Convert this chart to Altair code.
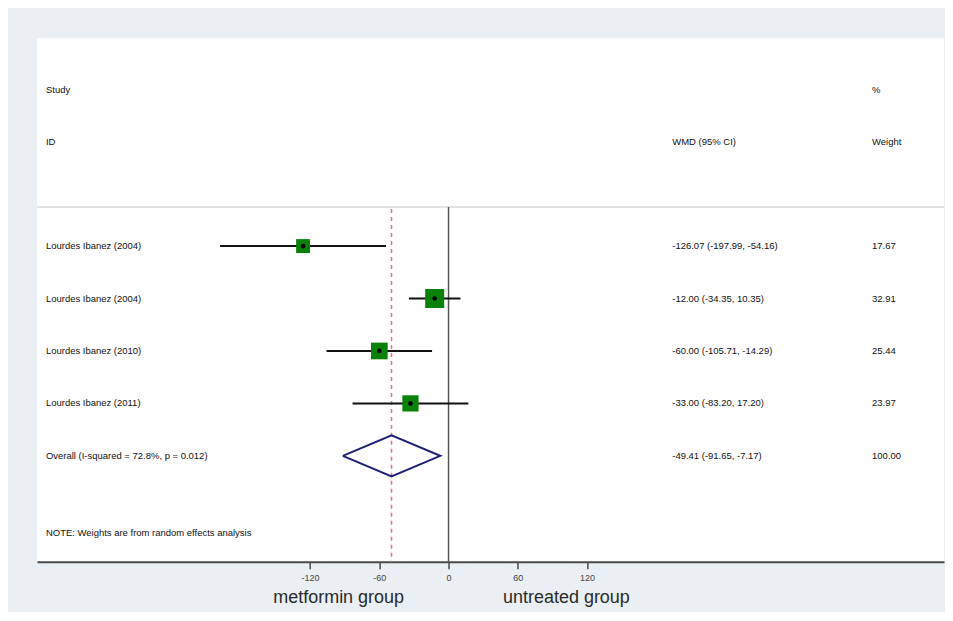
import altair as alt
import pandas as pd

# ---- data ----
studies = ["Lourdes Ibanez (2004)", "Lourdes Ibanez (2004)",
           "Lourdes Ibanez (2010)", "Lourdes Ibanez (2011)"]
wmd = [-126.07, -12.00, -60.00, -33.00]
ci_low = [-197.99, -34.35, -105.71, -83.20]
ci_high = [-54.16, 10.35, -14.29, 17.20]
weights = [17.67, 32.91, 25.44, 23.97]

overall_label = "Overall  (I-squared = 72.8%, p = 0.012)"
overall_est = -49.41
overall_low = -91.65
overall_high = -7.17
overall_weight = 100.00

tick_values = [-120, -60, 0, 60, 120]
note_text = "NOTE: Weights are from random effects analysis"
left_title = "metformin group"
right_title = "untreated group"

# ---- tables ----
rows = pd.DataFrame({
    "row": list(range(len(studies))),
    "study": studies,
    "wmd": wmd,
    "lo": ci_low,
    "hi": ci_high,
    "weight": weights,
})
rows["ci_text"] = [f"{w:.2f} ({l:.2f}, {h:.2f})" for w, l, h in zip(wmd, ci_low, ci_high)]
rows["w_text"] = [f"{w:.2f}" for w in weights]

ov_row = len(studies)
overall_df = pd.DataFrame({
    "row": [ov_row],
    "study": [overall_label],
    "wmd": [overall_est],
    "ci_text": [f"{overall_est:.2f} ({overall_low:.2f}, {overall_high:.2f})"],
    "w_text": [f"{overall_weight:.2f}"],
})
half = 0.39
diamond = pd.DataFrame({
    "x": [overall_low, overall_est, overall_high, overall_est, overall_low],
    "y": [ov_row, ov_row - half, ov_row, ov_row + half, ov_row],
    "o": [0, 1, 2, 3, 4],
})
labels_df = pd.concat([rows[["row", "study", "ci_text", "w_text"]],
                       overall_df[["row", "study", "ci_text", "w_text"]]])

W, H = 908, 524
FONT = "Liberation Sans"
TXT = "#111111"

xscale = alt.Scale(domain=[-356.7, 429.4], nice=False, zero=False)
yscale = alt.Scale(domain=[-3.962, 6.019], reverse=True, nice=False, zero=False)

xenc = alt.X("wmd:Q", scale=xscale,
             axis=alt.Axis(values=tick_values, title=None, grid=False,
                           domainColor="#4a4a4a", domainWidth=2,
                           tickColor="#4a4a4a", tickSize=7, tickWidth=1.5,
                           labelFontSize=9, labelColor="#444444", labelFont=FONT,
                           labelPadding=5, labelExpr="toString(datum.value)"))
yenc = alt.Y("row:Q", scale=yscale, axis=None)

base = alt.Chart(rows)

# separator line under header
sep = alt.Chart(pd.DataFrame({"a": [0]})).mark_rule(color="#d8d8d8", strokeWidth=1.5).encode(
    x=alt.value(0), x2=alt.value(W), y=alt.value(169))

# null line
zero_line = alt.Chart(pd.DataFrame({"wmd": [0]})).mark_rule(color="#555555", strokeWidth=1.5).encode(
    x=alt.X("wmd:Q", scale=xscale), y=alt.value(169), y2=alt.value(H))

# overall dashed line
ov_line = alt.Chart(overall_df).mark_rule(color="#d07a80", strokeWidth=1.5, strokeDash=[4, 4]).encode(
    x=alt.X("wmd:Q", scale=xscale), y=alt.value(171), y2=alt.value(H))

ci = base.mark_rule(color="#111111", strokeWidth=2).encode(
    x=alt.X("lo:Q", scale=xscale), x2="hi:Q", y=yenc)

squares = base.transform_calculate(sz="datum.weight * 11").mark_square(
    color="#0a820a", opacity=1, filled=True).encode(
    x=xenc, y=yenc, size=alt.Size("sz:Q", scale=None, legend=None))

dots = base.mark_circle(color="#000000", size=22, opacity=1).encode(
    x=alt.X("wmd:Q", scale=xscale), y=yenc)

diam = alt.Chart(diamond).mark_line(color="#1f1f78", strokeWidth=2).encode(
    x=alt.X("x:Q", scale=xscale), y=alt.Y("y:Q", scale=yscale, axis=None), order="o:Q")

tstyle = dict(font=FONT, fontSize=9.5, color=TXT, align="left", baseline="middle")

study_txt = alt.Chart(labels_df).mark_text(**tstyle).encode(
    x=alt.value(9), y=yenc, text="study:N")
ci_txt = alt.Chart(labels_df).mark_text(**tstyle).encode(
    x=alt.value(636), y=yenc, text="ci_text:N")
w_txt = alt.Chart(labels_df).mark_text(**tstyle).encode(
    x=alt.value(836), y=yenc, text="w_text:N")

headers = pd.DataFrame({
    "t": ["Study", "ID", "WMD (95% CI)", "%", "Weight"],
    "px": [9, 9, 636, 836, 836],
    "py": [52, 104, 104, 52, 104],
})
head_txt = alt.Chart(headers).mark_text(**tstyle).encode(
    x=alt.X("px:Q", scale=None), y=alt.Y("py:Q", scale=None), text="t:N")

note = alt.Chart(pd.DataFrame({"t": [note_text]})).mark_text(**tstyle).encode(
    x=alt.value(9), y=alt.value(495), text="t:N")

titles = pd.DataFrame({"t": [left_title, right_title], "px": [302, 530]})
title_txt = alt.Chart(titles).mark_text(font=FONT, fontSize=18, color="#2a2a2a",
                                        align="center", baseline="middle").encode(
    x=alt.X("px:Q", scale=None), y=alt.value(560), text="t:N")

chart = alt.layer(
    sep, ov_line, zero_line, ci, squares, dots, diam,
    study_txt, ci_txt, w_txt, head_txt, note, title_txt
).properties(
    width=W, height=H,
    padding={"left": 28, "top": 30, "right": 0, "bottom": 5},
    background="#e9eff2",
).configure_view(fill="white", stroke=None)

chart.save("out.html", embed_options={"renderer": "svg", "actions": False})
